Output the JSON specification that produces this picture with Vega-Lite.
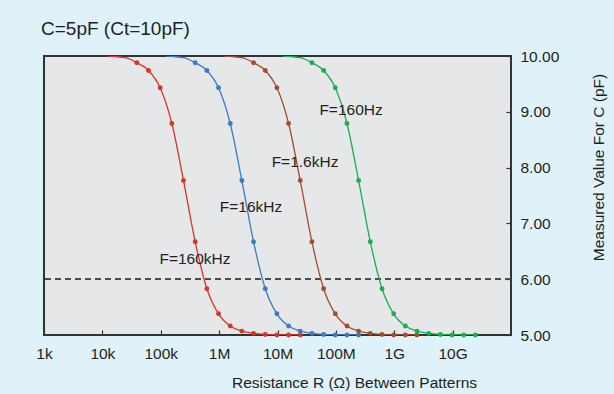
{
  "$schema": "https://vega.github.io/schema/vega-lite/v6.json",
  "width": 467,
  "height": 279,
  "autosize": {"type": "none"},
  "padding": {"left": 44, "top": 56, "right": 103, "bottom": 59},
  "background": "#dff1f9",
  "title": {
    "text": "C=5pF (Ct=10pF)",
    "anchor": "start",
    "frame": "group",
    "font": "Liberation Sans",
    "fontSize": 19,
    "fontWeight": "normal",
    "color": "#231f20",
    "dx": -3,
    "offset": 10
  },
  "config": {
    "view": {"fill": "#e6e7e8", "stroke": "#333333", "strokeWidth": 2},
    "axis": {
      "labelFont": "Liberation Sans",
      "labelFontSize": 15.5,
      "labelColor": "#231f20",
      "titleFont": "Liberation Sans",
      "titleFontSize": 15.5,
      "titleFontWeight": "normal",
      "titleColor": "#231f20",
      "domain": false,
      "grid": false,
      "tickColor": "#333333",
      "tickSize": -5,
      "tickWidth": 1.2
    }
  },
  "data": {
    "values": [
      {"F": "160kHz", "R": 12300, "C": 10.00, "m": 0},
      {"F": "160kHz", "R": 24500, "C": 9.97, "m": 0},
      {"F": "160kHz", "R": 38900, "C": 9.88, "m": 1},
      {"F": "160kHz", "R": 61700, "C": 9.74, "m": 1},
      {"F": "160kHz", "R": 97700, "C": 9.43, "m": 1},
      {"F": "160kHz", "R": 155000, "C": 8.79, "m": 1},
      {"F": "160kHz", "R": 245000, "C": 7.77, "m": 1},
      {"F": "160kHz", "R": 389000, "C": 6.67, "m": 1},
      {"F": "160kHz", "R": 617000, "C": 5.83, "m": 1},
      {"F": "160kHz", "R": 977000, "C": 5.38, "m": 1},
      {"F": "160kHz", "R": 1550000, "C": 5.16, "m": 1},
      {"F": "160kHz", "R": 2450000, "C": 5.07, "m": 1},
      {"F": "160kHz", "R": 3890000, "C": 5.03, "m": 1},
      {"F": "160kHz", "R": 6170000, "C": 5.01, "m": 1},
      {"F": "160kHz", "R": 9770000, "C": 5.00, "m": 1},
      {"F": "160kHz", "R": 15500000, "C": 5.00, "m": 1},
      {"F": "160kHz", "R": 24500000, "C": 5.00, "m": 1},

      {"F": "16kHz", "R": 123000, "C": 10.00, "m": 0},
      {"F": "16kHz", "R": 245000, "C": 9.97, "m": 0},
      {"F": "16kHz", "R": 389000, "C": 9.88, "m": 1},
      {"F": "16kHz", "R": 617000, "C": 9.74, "m": 1},
      {"F": "16kHz", "R": 977000, "C": 9.43, "m": 1},
      {"F": "16kHz", "R": 1550000, "C": 8.79, "m": 1},
      {"F": "16kHz", "R": 2450000, "C": 7.77, "m": 1},
      {"F": "16kHz", "R": 3890000, "C": 6.67, "m": 1},
      {"F": "16kHz", "R": 6170000, "C": 5.83, "m": 1},
      {"F": "16kHz", "R": 9770000, "C": 5.38, "m": 1},
      {"F": "16kHz", "R": 15500000, "C": 5.16, "m": 1},
      {"F": "16kHz", "R": 24500000, "C": 5.07, "m": 1},
      {"F": "16kHz", "R": 38900000, "C": 5.03, "m": 1},
      {"F": "16kHz", "R": 61700000, "C": 5.01, "m": 1},
      {"F": "16kHz", "R": 97700000, "C": 5.00, "m": 1},
      {"F": "16kHz", "R": 155000000, "C": 5.00, "m": 1},
      {"F": "16kHz", "R": 245000000, "C": 5.00, "m": 1},

      {"F": "1.6kHz", "R": 1230000, "C": 10.00, "m": 0},
      {"F": "1.6kHz", "R": 2450000, "C": 9.97, "m": 0},
      {"F": "1.6kHz", "R": 3890000, "C": 9.88, "m": 1},
      {"F": "1.6kHz", "R": 6170000, "C": 9.74, "m": 1},
      {"F": "1.6kHz", "R": 9770000, "C": 9.43, "m": 1},
      {"F": "1.6kHz", "R": 15500000, "C": 8.79, "m": 1},
      {"F": "1.6kHz", "R": 24500000, "C": 7.77, "m": 1},
      {"F": "1.6kHz", "R": 38900000, "C": 6.67, "m": 1},
      {"F": "1.6kHz", "R": 61700000, "C": 5.83, "m": 1},
      {"F": "1.6kHz", "R": 97700000, "C": 5.38, "m": 1},
      {"F": "1.6kHz", "R": 155000000, "C": 5.16, "m": 1},
      {"F": "1.6kHz", "R": 245000000, "C": 5.07, "m": 1},
      {"F": "1.6kHz", "R": 389000000, "C": 5.03, "m": 1},
      {"F": "1.6kHz", "R": 617000000, "C": 5.01, "m": 1},
      {"F": "1.6kHz", "R": 977000000, "C": 5.00, "m": 1},
      {"F": "1.6kHz", "R": 1550000000, "C": 5.00, "m": 1},
      {"F": "1.6kHz", "R": 2450000000, "C": 5.00, "m": 1},

      {"F": "160Hz", "R": 12300000, "C": 10.00, "m": 0},
      {"F": "160Hz", "R": 24500000, "C": 9.97, "m": 0},
      {"F": "160Hz", "R": 38900000, "C": 9.88, "m": 1},
      {"F": "160Hz", "R": 61700000, "C": 9.74, "m": 1},
      {"F": "160Hz", "R": 97700000, "C": 9.43, "m": 1},
      {"F": "160Hz", "R": 155000000, "C": 8.79, "m": 1},
      {"F": "160Hz", "R": 245000000, "C": 7.77, "m": 1},
      {"F": "160Hz", "R": 389000000, "C": 6.67, "m": 1},
      {"F": "160Hz", "R": 617000000, "C": 5.83, "m": 1},
      {"F": "160Hz", "R": 977000000, "C": 5.38, "m": 1},
      {"F": "160Hz", "R": 1550000000, "C": 5.16, "m": 1},
      {"F": "160Hz", "R": 2450000000, "C": 5.07, "m": 1},
      {"F": "160Hz", "R": 3890000000, "C": 5.03, "m": 1},
      {"F": "160Hz", "R": 6170000000, "C": 5.01, "m": 1},
      {"F": "160Hz", "R": 9770000000, "C": 5.00, "m": 1},
      {"F": "160Hz", "R": 15500000000, "C": 5.00, "m": 1},
      {"F": "160Hz", "R": 24500000000, "C": 5.00, "m": 1}
    ]
  },
  "layer": [
    {
      "mark": {"type": "rule", "strokeDash": [6, 4], "color": "#4d4d4d", "strokeWidth": 1},
      "encoding": {"y": {"datum": 6, "type": "quantitative", "scale": {"domain": [5, 10], "zero": false, "nice": false}}}
    },
    {
      "mark": {"type": "line", "interpolate": "monotone", "strokeWidth": 1.3, "clip": true},
      "encoding": {
        "x": {
          "field": "R",
          "type": "quantitative",
          "scale": {"type": "log", "domain": [1000, 100000000000]},
          "axis": {
            "title": "Resistance R (Ω) Between Patterns",
            "values": [1000, 10000, 100000, 1000000, 10000000, 100000000, 1000000000, 10000000000],
            "labelExpr": "datum.value >= 1e9 ? (datum.value / 1e9) + 'G' : datum.value >= 1e6 ? (datum.value / 1e6) + 'M' : (datum.value / 1e3) + 'k'",
            "labelPadding": 16,
            "labelFlush": false,
            "labelOverlap": false,
            "titleX": 310,
            "titleY": 47,
            "titleAlign": "center",
            "titleBaseline": "middle"
          }
        },
        "y": {
          "field": "C",
          "type": "quantitative",
          "scale": {"domain": [5, 10], "zero": false, "nice": false},
          "axis": {
            "orient": "right",
            "title": "Measured Value For C (pF)",
            "values": [5, 6, 7, 8, 9, 10],
            "format": ".2f",
            "labelPadding": 14,
            "labelFlush": false,
            "labelOverlap": false,
            "titleAngle": 270,
            "titleX": 87,
            "titleY": 111,
            "titleAlign": "center",
            "titleBaseline": "middle"
          }
        },
        "color": {
          "field": "F",
          "type": "nominal",
          "scale": {"domain": ["160kHz", "16kHz", "1.6kHz", "160Hz"], "range": ["#d8352a", "#3a7cc4", "#a24e2c", "#16b04e"]},
          "legend": null
        }
      }
    },
    {
      "transform": [{"filter": "datum.m == 1"}],
      "mark": {"type": "point", "filled": true, "size": 24, "opacity": 1},
      "encoding": {
        "x": {"field": "R", "type": "quantitative"},
        "y": {"field": "C", "type": "quantitative"},
        "color": {"field": "F", "type": "nominal", "legend": null}
      }
    },
    {
      "data": {
        "values": [
          {"label": "F=160Hz", "R": 182000000, "C": 9.03},
          {"label": "F=1.6kHz", "R": 29600000, "C": 8.10},
          {"label": "F=16kHz", "R": 3520000, "C": 7.30},
          {"label": "F=160kHz", "R": 386000, "C": 6.36}
        ]
      },
      "mark": {"type": "text", "font": "Liberation Sans", "fontSize": 15.5, "color": "#231f20", "align": "center", "baseline": "middle"},
      "encoding": {
        "x": {"field": "R", "type": "quantitative"},
        "y": {"field": "C", "type": "quantitative"},
        "text": {"field": "label"}
      }
    }
  ]
}
